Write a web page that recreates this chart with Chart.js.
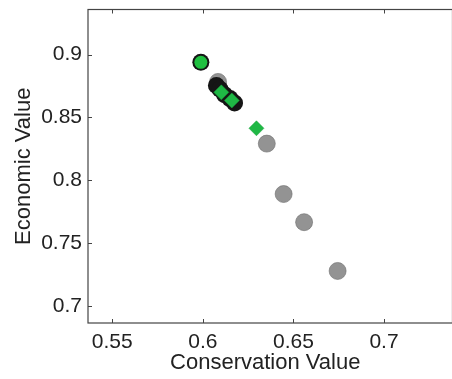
<!DOCTYPE html>
<html>
<head>
<meta charset="utf-8">
<title>Conservation vs Economic Value</title>
<script src="https://cdn.jsdelivr.net/npm/chart.js@4/dist/chart.umd.min.js"></script>
<style>
    html, body { margin: 0; padding: 0; background: #ffffff; overflow: hidden; }
    #wrap { width: 452px; height: 379px; position: relative; }
</style>
</head>
<body>
<div id="wrap"><canvas id="frontierChart"></canvas></div>
<script>
// ===== Data =====
const xTicks = [0.55, 0.6, 0.65, 0.7];
const yTicks = [0.7, 0.75, 0.8, 0.85, 0.9];

// gray solutions
const grayCons = [0.6084, 0.6353, 0.6446, 0.6559, 0.6744];
const grayEcon = [0.8783, 0.8292, 0.7891, 0.7667, 0.7279];

// black solutions
const blackCons = [0.5989, 0.6075, 0.6095, 0.6120, 0.6150, 0.6175];
const blackEcon = [0.8939, 0.8755, 0.8725, 0.8680, 0.8650, 0.8615];

// green circle and diamonds
const greenDotCons = [0.5989];
const greenDotEcon = [0.8939];
const greenDiamondCons = [0.6102, 0.6160, 0.6296];
const greenDiamondEcon = [0.8700, 0.8635, 0.8414];

const toPoints = (xs, ys) => xs.map((x, i) => ({ x: x, y: ys[i] }));

document.addEventListener('DOMContentLoaded', function() {
    const tickFont = { family: '"Liberation Sans", Arial, sans-serif', size: 21 };
    const titleFont = { family: '"Liberation Sans", Arial, sans-serif', size: 22 };

    // Box around the plot with short inward tick marks
    const framePlugin = {
        id: 'frame',
        afterDraw(chart) {
            const ctx = chart.ctx;
            const a = chart.chartArea;
            const xs = chart.scales.x;
            const ys = chart.scales.y;
            ctx.save();
            ctx.strokeStyle = '#444444';
            ctx.lineWidth = 1.2;
            ctx.strokeRect(a.left, a.top, a.right - a.left + 10, a.bottom - a.top);
            ctx.lineWidth = 1;
            ctx.beginPath();
            xTicks.forEach(v => {
                const px = Math.round(xs.getPixelForValue(v)) + 0.5;
                ctx.moveTo(px, a.bottom);
                ctx.lineTo(px, a.bottom - 4);
                ctx.moveTo(px, a.top);
                ctx.lineTo(px, a.top + 4);
            });
            yTicks.forEach(v => {
                const py = Math.round(ys.getPixelForValue(v)) + 0.5;
                ctx.moveTo(a.left, py);
                ctx.lineTo(a.left + 4, py);
            });
            ctx.stroke();
            ctx.restore();
        }
    };

    new Chart(document.getElementById('frontierChart'), {
        type: 'scatter',
        data: {
            datasets: [
                {
                    data: toPoints(grayCons, grayEcon),
                    order: 4,
                    backgroundColor: 'rgba(128, 128, 128, 0.85)',
                    borderColor: 'rgba(110, 110, 110, 0.6)',
                    borderWidth: 1,
                    pointRadius: 8.5
                },
                {
                    data: toPoints(blackCons, blackEcon),
                    order: 3,
                    backgroundColor: '#151515',
                    borderColor: '#151515',
                    borderWidth: 0,
                    pointRadius: 8.5
                },
                {
                    data: toPoints(greenDotCons, greenDotEcon),
                    order: 2,
                    backgroundColor: '#20c040',
                    borderWidth: 0,
                    pointRadius: 6.5
                },
                {
                    data: toPoints(greenDiamondCons, greenDiamondEcon),
                    order: 1,
                    pointStyle: 'rectRot',
                    backgroundColor: '#1fb845',
                    borderColor: '#17a03a',
                    borderWidth: 0.5,
                    pointRadius: 7.5
                }
            ]
        },
        options: {
            responsive: true,
            maintainAspectRatio: false,
            animation: false,
            layout: { padding: { top: 8, right: 0, left: 0, bottom: 0 } },
            plugins: {
                legend: { display: false },
                tooltip: { enabled: false }
            },
            scales: {
                x: {
                    type: 'linear',
                    min: 0.5366,
                    max: 0.7323,
                    afterFit: scale => {
                        scale.height = 56;
                        scale.paddingLeft = 0;
                        scale.paddingRight = 0;
                    },
                    afterBuildTicks: scale => { scale.ticks = xTicks.map(v => ({ value: v })); },
                    grid: { display: false, drawTicks: false },
                    border: { display: false },
                    ticks: {
                        color: '#222222',
                        font: tickFont,
                        padding: 7,
                        maxRotation: 0,
                        callback: v => String(v)
                    },
                    title: {
                        display: true,
                        text: 'Conservation Value',
                        color: '#222222',
                        font: titleFont,
                        padding: { top: 0, bottom: 3 }
                    }
                },
                y: {
                    type: 'linear',
                    min: 0.6865,
                    max: 0.9359,
                    afterFit: scale => {
                        scale.width = 88;
                        scale.paddingTop = 0;
                        scale.paddingBottom = 0;
                    },
                    afterBuildTicks: scale => { scale.ticks = yTicks.map(v => ({ value: v })); },
                    grid: { display: false, drawTicks: false },
                    border: { display: false },
                    ticks: {
                        color: '#222222',
                        font: tickFont,
                        padding: 6,
                        callback: v => String(v)
                    },
                    title: {
                        display: true,
                        text: 'Economic Value',
                        color: '#222222',
                        font: titleFont,
                        padding: { top: 11, bottom: 0 }
                    }
                }
            }
        },
        plugins: [framePlugin]
    });
});
</script>
</body>
</html>
